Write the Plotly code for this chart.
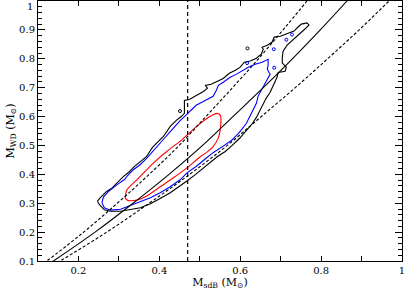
import plotly.graph_objects as go

# ---- contour data ----
black_x = [0.247,0.254,0.269,0.284,0.296,0.311,0.326,0.338,0.353,0.368,0.383,0.398,0.410,0.427,0.442,0.454,0.462,0.462,0.462,0.474,
           0.489,0.509,0.519,0.514,0.528,0.543,0.558,0.573,0.588,0.600,0.610,0.625,0.640,0.652,0.657,0.654,0.667,0.679,0.684,0.699,
           0.721,0.733,0.743,0.751,0.765,0.770,0.760,0.746,0.731,0.716,0.706,0.704,0.704,0.714,0.711,0.694,0.691,0.684,0.674,0.664,
           0.657,0.649,0.640,0.630,0.615,0.598,0.580,0.563,0.543,0.526,0.509,0.489,0.469,0.452,0.427,0.402,0.378,0.353,0.328,0.304,
           0.279,0.264,0.252]
black_y = [0.307,0.319,0.340,0.354,0.371,0.392,0.409,0.427,0.444,0.461,0.493,0.514,0.531,0.566,0.587,0.600,0.611,0.639,0.656,0.659,
           0.670,0.687,0.698,0.708,0.712,0.722,0.732,0.750,0.760,0.771,0.788,0.792,0.802,0.816,0.833,0.840,0.847,0.858,0.875,0.878,
           0.889,0.896,0.910,0.920,0.924,0.917,0.903,0.885,0.868,0.847,0.826,0.805,0.785,0.771,0.757,0.753,0.736,0.712,0.684,0.663,
           0.642,0.618,0.597,0.576,0.552,0.524,0.500,0.479,0.461,0.441,0.423,0.399,0.378,0.361,0.336,0.316,0.298,0.284,0.279,0.272,
           0.272,0.277,0.295]

blue_x = [0.258,0.262,0.274,0.286,0.299,0.314,0.321,0.336,0.353,0.368,0.383,0.398,0.412,0.427,0.440,0.452,0.462,0.477,0.491,0.504,
          0.519,0.533,0.541,0.546,0.558,0.575,0.590,0.602,0.620,0.637,0.654,0.669,0.669,0.667,0.674,0.667,0.654,0.644,0.640,0.630,
          0.615,0.598,0.578,0.556,0.533,0.514,0.491,0.469,0.452,0.427,0.402,0.378,0.353,0.328,0.304,0.279,0.264]
blue_y = [0.302,0.322,0.340,0.354,0.368,0.382,0.395,0.416,0.434,0.454,0.479,0.500,0.524,0.548,0.569,0.587,0.600,0.621,0.639,0.649,
          0.659,0.670,0.691,0.708,0.719,0.736,0.746,0.757,0.771,0.781,0.788,0.798,0.778,0.764,0.746,0.729,0.698,0.670,0.646,0.618,
          0.576,0.545,0.517,0.496,0.475,0.454,0.427,0.406,0.382,0.357,0.336,0.319,0.305,0.291,0.279,0.276,0.284]

red_x = [0.316,0.320,0.345,0.386,0.419,0.452,0.493,0.526,0.543,0.551,0.552,0.546,0.533,0.516,0.501,0.469,0.435,0.402,0.370,0.348,0.323]
red_y = [0.318,0.347,0.382,0.440,0.480,0.515,0.567,0.601,0.611,0.604,0.573,0.527,0.496,0.475,0.461,0.423,0.388,0.357,0.326,0.312,0.309]

blue_islands_x = [0.683,0.684,0.714,0.728,0.617]
blue_islands_y = [0.833,0.769,0.866,0.884,0.785]
black_islands_x = [0.451,0.618]
black_islands_y = [0.619,0.836]

# ---- relation curves ----
curve_y = [0.05,0.1,0.2,0.3,0.4,0.5,0.6,0.7,0.8,0.9,1.0,1.05]
solid_x = [0.084,0.138,0.241,0.335,0.424,0.507,0.582,0.657,0.729,0.798,0.864,0.896]
upper_x = [0.074,0.122,0.213,0.296,0.375,0.449,0.515,0.581,0.645,0.706,0.765,0.793]
lower_x = [0.094,0.155,0.270,0.375,0.475,0.568,0.652,0.736,0.816,0.894,0.968,1.004]

vline_x = 0.47

x_ticks = [0.2, 0.4, 0.6, 0.8, 1.0]
x_ticktext = ["0.2", "0.4", "0.6", "0.8", "1"]
x_minor = [0.1, 0.3, 0.5, 0.7, 0.9]
y_ticks = [0.1, 0.2, 0.3, 0.4, 0.5, 0.6, 0.7, 0.8, 0.9, 1.0]
y_ticktext = ["0.1", "0.2", "0.3", "0.4", "0.5", "0.6", "0.7", "0.8", "0.9", ""]
y_top_label = "1"

def closed(a):
    return list(a) + [a[0]]

fig = go.Figure()
fig.add_trace(go.Scatter(x=closed(black_x), y=closed(black_y), mode="lines",
                         line=dict(color="black", width=1.1)))
fig.add_trace(go.Scatter(x=closed(blue_x), y=closed(blue_y), mode="lines",
                         line=dict(color="#0000ff", width=1.1)))
fig.add_trace(go.Scatter(x=closed(red_x), y=closed(red_y), mode="lines",
                         line=dict(color="#ff0000", width=1.1, shape="spline", smoothing=0.6)))
fig.add_trace(go.Scatter(x=blue_islands_x, y=blue_islands_y, mode="markers",
                         marker=dict(symbol="circle-open", size=3, color="#0000ff", line=dict(width=1))))
fig.add_trace(go.Scatter(x=black_islands_x, y=black_islands_y, mode="markers",
                         marker=dict(symbol="circle-open", size=3, color="black", line=dict(width=1))))

fig.add_trace(go.Scatter(x=solid_x, y=curve_y, mode="lines",
                         line=dict(color="black", width=1.1, shape="spline")))
fig.add_trace(go.Scatter(x=upper_x, y=curve_y, mode="lines",
                         line=dict(color="black", width=1.1, dash="3px,2px", shape="spline")))
fig.add_trace(go.Scatter(x=lower_x, y=curve_y, mode="lines",
                         line=dict(color="black", width=1.1, dash="3px,2px", shape="spline")))
fig.add_trace(go.Scatter(x=[vline_x, vline_x], y=[0.1, 1.0], mode="lines",
                         line=dict(color="black", width=1.2, dash="4px,3px")))

font = dict(family="DejaVu Serif", size=10, color="black")
fig.update_layout(
    width=407, height=290,
    margin=dict(l=38, r=5, t=1, b=29),
    paper_bgcolor="white", plot_bgcolor="white",
    showlegend=False,
    font=font,
    xaxis=dict(range=[0.1, 1.0], tickvals=x_ticks, ticktext=x_ticktext,
               ticks="inside", ticklen=5, tickcolor="black", mirror="allticks",
               showline=True, linecolor="black", linewidth=1,
               showgrid=False, zeroline=False, automargin=False,
               minor=dict(tickvals=x_minor, ticks="inside", ticklen=5, tickcolor="black"),
               title=dict(text="M<sub>sdB</sub> (M<sub>⊙</sub>)", standoff=0, font=dict(size=11))),
    yaxis=dict(range=[0.1, 1.0], tickvals=y_ticks, ticktext=y_ticktext,
               ticks="inside", ticklen=7, tickcolor="black", mirror="allticks",
               showline=True, linecolor="black", linewidth=1,
               showgrid=False, zeroline=False, automargin=False,
               minor=dict(dtick=0.02, ticks="inside", ticklen=4, tickcolor="black"),
               title=dict(text="M<sub>WD</sub> (M<sub>⊙</sub>)", standoff=2, font=dict(size=11))),
    annotations=[dict(x=0, xref="paper", y=1.0, yref="y", text=y_top_label,
                      showarrow=False, xanchor="right", yanchor="top", xshift=-3, yshift=2,
                      font=font)],
)

fig.write_html("out.html", config={"displayModeBar": False})

# remove the browser's default page margin so the figure sits at (0, 0)
with open("out.html", encoding="utf-8") as f:
    html = f.read()
html = html.replace("<head>", "<head><style>html,body{margin:0;padding:0;overflow:hidden;}</style>", 1)
with open("out.html", "w", encoding="utf-8") as f:
    f.write(html)
